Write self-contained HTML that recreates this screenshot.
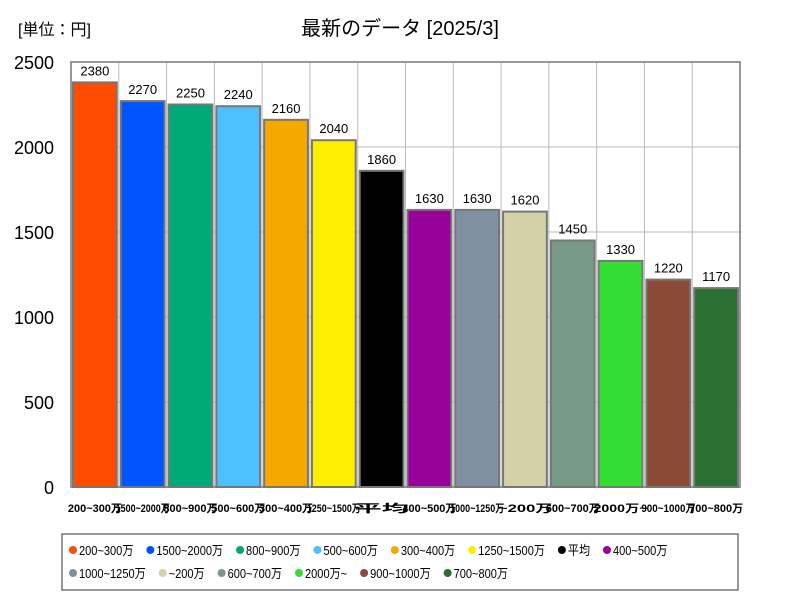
<!DOCTYPE html>
<html><head><meta charset="utf-8"><style>
body{margin:0;background:#fff;font-family:"Liberation Sans","Noto Sans CJK JP",sans-serif;}
svg text{font-family:"Liberation Sans","Noto Sans CJK JP",sans-serif;}
</style></head><body>
<svg id="c" width="800" height="600">
<text x="18" y="35" font-size="16">[単位：円]</text>
<text x="400" y="35" font-size="20" text-anchor="middle">最新のデータ [2025/3]</text>
<g id="grid"></g><g id="bars"></g><g id="axes"></g>
<rect x="62" y="534" width="676" height="56" fill="#fff" stroke="#777" stroke-width="1.5"/>
<g id="legend"></g>
</svg>
<script>
const categories=["200~300万","1500~2000万","800~900万","500~600万","300~400万","1250~1500万","平均","400~500万","1000~1250万","~200万","600~700万","2000万~","900~1000万","700~800万"];
const values=[2380,2270,2250,2240,2160,2040,1860,1630,1630,1620,1450,1330,1220,1170];
const colors=["#ff4c00","#0055ff","#00aa77","#4dc0ff","#f5a800","#ffee00","#000000","#990099","#8090a0","#d4d0a8","#779988","#33dd33","#8b4a35","#2a7030"];
const yTicks=[0,500,1000,1500,2000,2500];
const legendLabels=["200~300万","1500~2000万","800~900万","500~600万","300~400万","1250~1500万","平均","400~500万","1000~1250万","~200万","600~700万","2000万~","900~1000万","700~800万"];
const NS="http://www.w3.org/2000/svg";
const L=71,R=740,T=62,B=487,yMax=2500;
const y=v=>B-(v/yMax)*(B-T);
const slot=(R-L)/categories.length;
const x=i=>L+i*slot;
function mk(t,a,p){const e=document.createElementNS(NS,t);for(const k in a)e.setAttribute(k,a[k]);p.appendChild(e);return e;}
const grid=document.getElementById('grid'),bars=document.getElementById('bars'),axes=document.getElementById('axes'),lg=document.getElementById('legend');
yTicks.forEach(v=>{
 const l=mk('line',{x1:L,x2:R,y1:y(v),y2:y(v),stroke:'#bbb'},grid);
 
 
 const t=mk('text',{x:54,y:y(v)+7,'font-size':18,'text-anchor':'end'},axes);t.textContent=v;
 
 
});
for(let i=1;i<categories.length;i++){const l=mk('line',{x1:x(i),x2:x(i),y1:T,y2:B,stroke:'#bbb'},grid);
 
 }
values.forEach((v,i)=>{
 const r=mk('rect',{x:x(i)+2,y:y(v),width:slot-4,height:B-y(v),fill:colors[i],stroke:'#777','stroke-width':2},bars);
 
 
 const t=mk('text',{x:x(i)+slot/2,y:y(v)-7,'font-size':13,'text-anchor':'middle'},bars);t.textContent=v;
 
 
 const c=mk('text',{x:x(i)+slot/2,y:512,'font-size':11,'text-anchor':'middle','font-weight':'bold',textLength:54,lengthAdjust:'spacingAndGlyphs'},axes);c.textContent=categories[i];
 
 
});
mk('rect',{x:L,y:T,width:R-L,height:B-T,fill:'none',stroke:'#777','stroke-width':1.5},axes);
let lx=68,ly=550,row=0;
legendLabels.forEach((s,i)=>{
 if(i===8){lx=68;ly=573;}
 const c=mk('circle',{cx:lx+5,cy:ly,r:4,fill:colors[i]},lg);
 
 
 const t=mk('text',{x:lx+11,y:ly+5,'font-size':13},lg);t.textContent=s;
 
 
 const w=t.getComputedTextLength();lx+=11+w*0.85+12;
 t.setAttribute('textLength',w*0.85);t.setAttribute('lengthAdjust','spacingAndGlyphs');
});
</script>
</body></html>
